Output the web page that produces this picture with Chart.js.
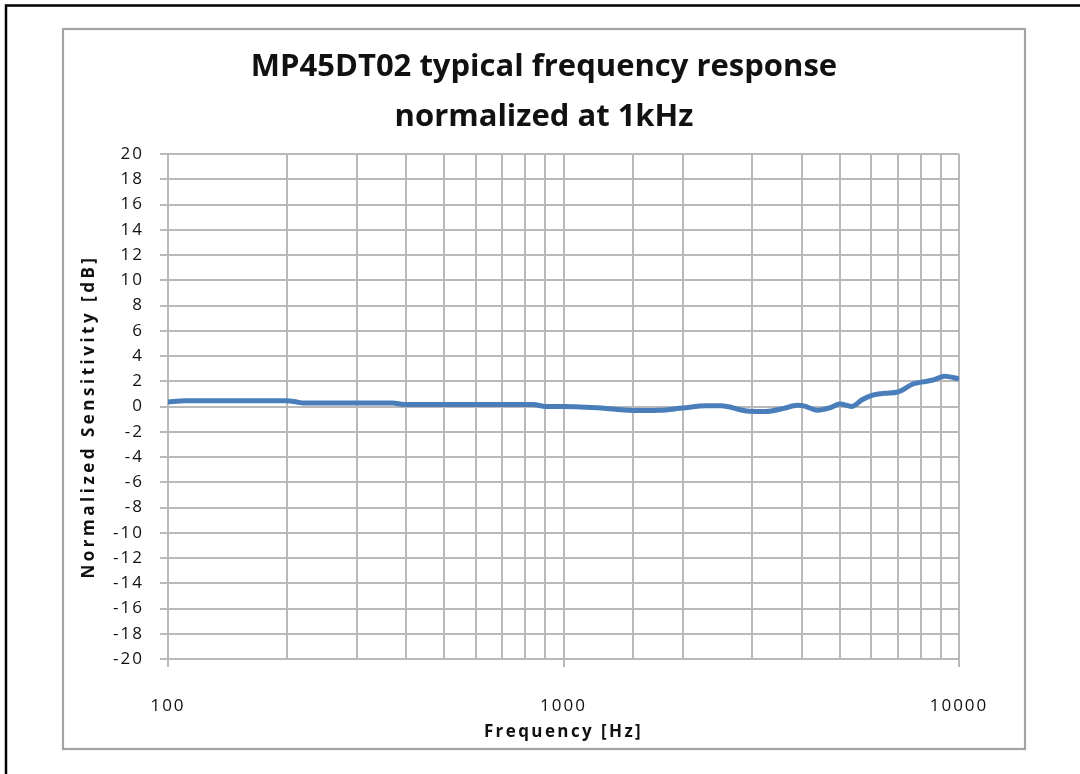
<!DOCTYPE html>
<html>
<head>
<meta charset="utf-8">
<script src="https://cdn.jsdelivr.net/npm/chart.js@4.4.0/dist/chart.umd.min.js"></script>
<style>
html,body{margin:0;padding:0;background:#fff;overflow:hidden}
#c{display:block}
</style>
</head>
<body>
<canvas id="c" width="1080" height="774"></canvas>
<script>
// ---- data ----
const titleLines = ["MP45DT02 typical frequency response", "normalized at 1kHz"];
const xAxisTitle = "Frequency [Hz]";
const yAxisTitle = "Normalized Sensitivity [dB]";
const xTickLabels = [100, 1000, 10000];
const yTickMin = -20;
const yTickMax = 20;
const yTickStep = 2;
const frequencies = [100, 110, 120, 150, 200, 210, 220, 250, 300, 370, 395, 500, 600, 700, 800, 840, 900, 1000, 1100, 1250, 1450, 1600, 1750, 2000, 2300, 2500, 2950, 3250, 3600, 3900, 4050, 4400, 4700, 5000, 5350, 5700, 6050, 6500, 7000, 7650, 8100, 8600, 9200, 10000];
const sensitivity = [0.35, 0.45, 0.45, 0.45, 0.45, 0.38, 0.27, 0.27, 0.27, 0.27, 0.16, 0.16, 0.16, 0.16, 0.16, 0.16, 0.0, 0.0, -0.03, -0.12, -0.3, -0.32, -0.3, -0.12, 0.05, 0.05, -0.38, -0.4, -0.15, 0.1, 0.05, -0.3, -0.12, 0.2, 0.0, 0.55, 0.9, 1.05, 1.15, 1.78, 1.95, 2.1, 2.4, 2.2];

// ---- styling ----
const FAMILY = "'Open Sans', 'DejaVu Sans', sans-serif";
const GRID = '#b9b9b9';
const TEXT = '#111111';
const spacing = { x: { labels: '2px', title: '2.4px' }, y: { labels: '2px', title: '3.5px' } };
const titleShift = { x: 29.5, y: 0 };
const yTitleShift = 10;

const isPow10 = v => Math.abs(Math.log10(v) - Math.round(Math.log10(v))) < 1e-9;

const framePlugin = {
  id: 'frame',
  beforeDraw(chart) {
    const ctx = chart.ctx;
    ctx.save();
    ctx.fillStyle = '#ffffff';
    ctx.fillRect(0, 0, chart.width, chart.height);
    // outer black border (top and left)
    ctx.strokeStyle = '#000000';
    ctx.lineWidth = 2.5;
    ctx.beginPath();
    ctx.moveTo(6, chart.height);
    ctx.lineTo(6, 5.5);
    ctx.lineTo(chart.width, 5.5);
    ctx.stroke();
    // gray chart frame
    ctx.strokeStyle = '#a3a3a3';
    ctx.lineWidth = 2.2;
    ctx.strokeRect(63, 29, 962, 720);
    ctx.restore();

    const tb = chart.titleBlock;
    if (tb && !tb._wrapped) {
      tb._wrapped = true;
      const d = tb.draw;
      tb.draw = function (a) {
        const c = this.ctx;
        c.save();
        c.translate(titleShift.x, titleShift.y);
        d.call(this, a);
        c.restore();
      };
    }
    // letter spacing wrappers for axis text
    ['x', 'y'].forEach(id => {
      const s = chart.scales[id];
      if (!s || s._lsWrapped) return;
      s._lsWrapped = true;
      const dl = s.drawLabels, dt = s.drawTitle;
      s.drawLabels = function (a) {
        const c = this.ctx, p = c.letterSpacing;
        c.letterSpacing = spacing[id].labels;
        dl.call(this, a);
        c.letterSpacing = p;
      };
      s.drawTitle = function (a) {
        const c = this.ctx, p = c.letterSpacing;
        c.save();
        if (id === 'y') c.translate(0, yTitleShift);
        c.letterSpacing = spacing[id].title;
        dt.call(this, a);
        c.letterSpacing = p;
        c.restore();
      };
    });
  }
};

const points = frequencies.map((f, i) => ({ x: f, y: sensitivity[i] }));

new Chart(document.getElementById('c'), {
  type: 'line',
  data: {
    datasets: [{
      data: points,
      borderColor: '#4a7ebb',
      borderWidth: 5,
      pointRadius: 0,
      fill: false,
      cubicInterpolationMode: 'monotone',
      borderCapStyle: 'round',
      borderJoinStyle: 'round'
    }]
  },
  options: {
    responsive: false,
    animation: false,
    devicePixelRatio: 1,
    layout: { padding: { left: 70, right: 121, top: 0, bottom: 25 } },
    plugins: {
      legend: { display: false },
      tooltip: { enabled: false },
      title: {
        display: true,
        text: titleLines,
        color: TEXT,
        font: { family: FAMILY, size: 31, weight: 'bold', lineHeight: '50px' },
        padding: { top: 42, bottom: 12 }
      }
    },
    scales: {
      x: {
        type: 'logarithmic',
        min: 100,
        max: 10000,
        afterFit(s) { s.height = 90; s.paddingLeft = 0; s.paddingRight = 0; },
        ticks: {
          autoSkip: false,
          maxRotation: 0,
          minRotation: 0,
          padding: 28.8,
          color: TEXT,
          font: { family: FAMILY, size: 17 },
          callback: v => (xTickLabels.includes(v) ? String(v) : '')
        },
        grid: {
          color: GRID,
          lineWidth: 2,
          drawTicks: true,
          tickLength: 8,
          tickColor: c => (c.tick && isPow10(c.tick.value) ? GRID : 'rgba(0,0,0,0)')
        },
        border: { display: true, color: GRID, width: 2 },
        title: {
          display: true,
          text: xAxisTitle,
          color: TEXT,
          font: { family: FAMILY, size: 17, weight: 'bold' },
          padding: { top: 0, bottom: 6.8 }
        }
      },
      y: {
        type: 'linear',
        min: yTickMin,
        max: yTickMax,
        afterFit(s) { s.width = 98; s.paddingTop = 0; s.paddingBottom = 0; },
        ticks: {
          stepSize: yTickStep,
          autoSkip: false,
          padding: 16,
          color: TEXT,
          font: { family: FAMILY, size: 17 }
        },
        grid: {
          color: GRID,
          lineWidth: 2,
          drawTicks: true,
          tickLength: 8,
          tickColor: GRID
        },
        border: { display: true, color: GRID, width: 2 },
        title: {
          display: true,
          text: yAxisTitle,
          color: TEXT,
          font: { family: FAMILY, size: 17, weight: 'bold' },
          padding: { top: 8.8, bottom: 0 }
        }
      }
    }
  },
  plugins: [framePlugin]
});
</script>
</body>
</html>
